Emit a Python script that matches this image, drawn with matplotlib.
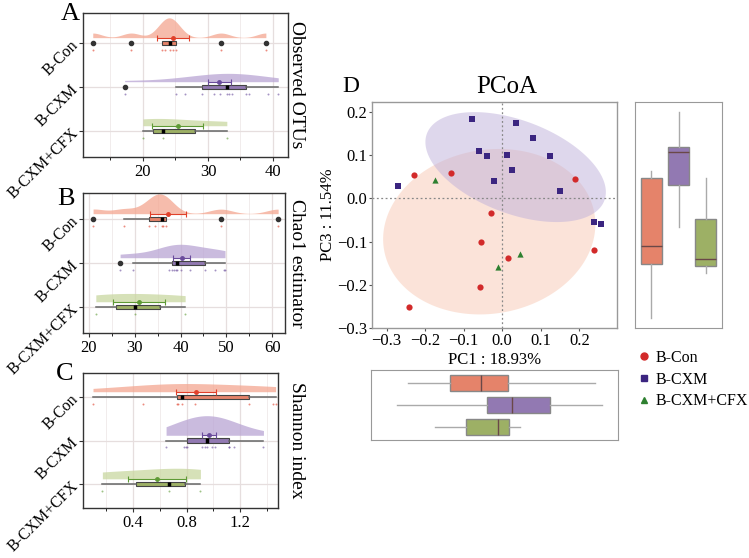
import numpy as np
import matplotlib.pyplot as plt
from matplotlib.lines import Line2D

plt.rcParams['font.family'] = ['Liberation Serif', 'DejaVu Serif']

groups = ['B-Con', 'B-CXM', 'B-CXM+CFX']

# alpha diversity, one value per sample
otus_con = [12.3, 18.2, 23.0, 23.4, 24.1, 24.6, 25.1, 32.0, 38.9]
otus_cxm = [17.2, 25.1, 26.4, 29.1, 31.0, 31.8, 32.9, 33.3, 33.7, 35.9, 36.3, 39.2, 40.8]
otus_cfx = [20.0, 23.1, 32.9]
chao_con = [20.9, 27.6, 33.0, 34.5, 35.9, 36.2, 36.8, 48.8, 61.3]
chao_cxm = [26.8, 29.6, 37.5, 38.1, 38.5, 39.0, 39.3, 40.0, 42.0, 45.3, 47.5, 49.5, 49.7]
chao_cfx = [21.5, 30.1, 41.0]
shan_con = [0.10, 0.474, 0.726, 0.74, 0.763, 0.86, 1.269, 1.45, 1.467]
shan_cxm = [0.647, 0.78, 0.793, 0.805, 0.916, 0.936, 0.956, 0.99, 1.01, 1.116, 1.12, 1.153, 1.376]
shan_cfx = [0.17, 0.672, 0.904]

# PCoA scores
pc1_con = [-0.228, -0.134, -0.028, -0.054, 0.015, -0.058, -0.243, 0.189, 0.238]
pc3_con = [0.054, 0.059, -0.035, -0.101, -0.139, -0.206, -0.252, 0.044, -0.120]
pc1_cxm = [-0.270, -0.078, 0.036, 0.080, -0.059, -0.040, 0.013, 0.026, -0.022, 0.123, 0.149, 0.238, 0.256]
pc3_cxm = [0.028, 0.183, 0.174, 0.140, 0.109, 0.098, 0.099, 0.065, 0.039, 0.098, 0.017, -0.054, -0.059]
pc1_cfx = [-0.174, 0.045, -0.012]
pc3_cfx = [0.043, -0.128, -0.158]

cloud_col = ['#F4A690', '#B9A5D4', '#C9D7A0']
box_col = ['#E5836A', '#9279B2', '#9DB065']
dot_col = ['#E0402A', '#6A4C9C', '#5E9A35']
pt_col = ['#D22A2A', '#3B2580', '#2E8030']
pt_mark = ['o', 's', '^']

W, H = 749, 558
fig = plt.figure(figsize=(W/100, H/100), dpi=100)

def box_px(l, t, r, b):
    return [l/W, 1-b/H, (r-l)/W, (b-t)/H]

def rain(rect, data, xlim, major, minor, ylim, title, letter, lpos):
    ax = fig.add_axes(rect)
    dens = []
    for vals in data:
        v = np.array(vals)
        iqr = np.percentile(v, 75) - np.percentile(v, 25)
        bw = 1.5*0.9*min(v.std(ddof=1), iqr/1.34)*len(v)**-0.2
        xs = np.linspace(v.min(), v.max(), 512)
        d = np.exp(-0.5*((xs[:, None]-v[None, :])/bw)**2).sum(1)/(len(v)*bw*np.sqrt(2*np.pi))
        dens.append((xs, d))
    dmax = max(d.max() for xs, d in dens)
    for i, vals in enumerate(data):
        v = np.array(vals)
        y0 = 3 - i
        xs, d = dens[i]
        ax.fill_between(xs, y0+0.12, y0+0.12+0.45*d/dmax, color=cloud_col[i], alpha=0.75, lw=0, zorder=2)
        ax.boxplot(v, positions=[y0], widths=0.1, orientation='horizontal', patch_artist=True,
                   showcaps=False, manage_ticks=False,
                   boxprops=dict(facecolor=box_col[i], edgecolor='#444444', lw=0.8),
                   whiskerprops=dict(color='#666666', lw=1.1),
                   medianprops=dict(color='black', lw=2.5),
                   flierprops=dict(marker='o', markerfacecolor='#333333', markeredgecolor='#333333', markersize=3),
                   zorder=3)
        se = v.std(ddof=1)/np.sqrt(len(v))
        ax.errorbar(v.mean(), y0+0.12, xerr=se, fmt='o', ms=2.5, color=dot_col[i],
                    elinewidth=0.8, capsize=2, capthick=0.8, zorder=4)
        ax.scatter(v, np.full(len(v), y0-0.16), s=2, color=dot_col[i], alpha=0.6, lw=0, zorder=3)
    ax.set_xlim(xlim)
    ax.set_ylim(ylim)
    ax.set_xticks(major)
    ax.set_xticks(minor, minor=True)
    ax.grid(True, which='major', color='#e6dede', lw=0.9)
    ax.grid(True, which='minor', axis='x', color='#efe9e9', lw=0.6)
    ax.set_axisbelow(True)
    ax.set_yticks([3, 2, 1])
    ax.set_yticklabels(groups, rotation=45, ha='right', va='center', rotation_mode='anchor', fontsize=11.5)
    ax.tick_params(axis='x', labelsize=12, length=3, color='#333333', pad=2)
    ax.tick_params(axis='y', length=3, color='#333333', pad=2)
    for s in ax.spines.values():
        s.set_color('#333333')
        s.set_linewidth(1.0)
    fig.text(297/W, rect[1]+rect[3]/2, title, rotation=270,
             ha='center', va='center', fontsize=14)
    fig.text(lpos[0]/W, 1-lpos[1]/H, letter, fontsize=19, ha='center', va='center')
    return ax

rain(box_px(83, 13, 288, 157), [otus_con, otus_cxm, otus_cfx], (10.8, 42.3),
     [20, 30, 40], [15, 25, 35], (0.41, 3.68), 'Observed OTUs', 'A', (70, 14))
rain(box_px(83, 193, 285, 333), [chao_con, chao_cxm, chao_cfx], (18.7, 62.8),
     [20, 30, 40, 50, 60], [25, 35, 45, 55], (0.41, 3.59), 'Chao1 estimator', 'B', (66, 199))
rain(box_px(83, 373, 278, 508), [shan_con, shan_cxm, shan_cfx], (0.025, 1.485),
     [0.4, 0.8, 1.2], [0.2, 0.6, 1.0, 1.4], (0.45, 3.55), 'Shannon index', 'C', (65, 374))

# PCoA scatter
axd = fig.add_axes(box_px(372, 102, 617, 328))
pc1 = [pc1_con, pc1_cxm, pc1_cfx]
pc3 = [pc3_con, pc3_cxm, pc3_cfx]
ell_col = ['#F8C9B4', '#BFB0DA']
xs_all, ys_all = [], []
t = np.linspace(0, 2*np.pi, 200)
scale = np.sqrt(-2*np.log(1-0.75))
for i in range(2):
    pts = np.vstack([pc1[i], pc3[i]])
    m = pts.mean(1)
    L = np.linalg.cholesky(np.cov(pts))
    e = m[:, None] + scale*L @ np.vstack([np.cos(t), np.sin(t)])
    axd.fill(e[0], e[1], color=ell_col[i], alpha=0.5, lw=0, zorder=1)
    xs_all += list(e[0]); ys_all += list(e[1])
for i in range(3):
    axd.scatter(pc1[i], pc3[i], marker=pt_mark[i], color=pt_col[i], s=20, lw=0, zorder=3)
    xs_all += pc1[i]; ys_all += pc3[i]
xlo, xhi = min(xs_all), max(xs_all)
ylo, yhi = min(ys_all), max(ys_all)
xl = (xlo-0.05*(xhi-xlo), xhi+0.05*(xhi-xlo))
axd.set_xlim(xl)
axd.set_ylim(ylo-0.05*(yhi-ylo), yhi+0.05*(yhi-ylo))
axd.axvline(0, color='#888888', ls=(0, (1.5, 2)), lw=0.9, zorder=2)
axd.axhline(0, color='#888888', ls=(0, (1.5, 2)), lw=0.9, zorder=2)
tk = [-0.3, -0.2, -0.1, 0.0, 0.1, 0.2]
axd.set_xticks(tk)
axd.set_yticks(tk)
axd.set_xticklabels(['%.1f' % v if v >= 0 else '\u2212%.1f' % -v for v in tk])
axd.set_yticklabels(['%.1f' % v if v >= 0 else '\u2212%.1f' % -v for v in tk])
axd.tick_params(labelsize=12, length=2.5, color='#555555', pad=1)
for s in axd.spines.values():
    s.set_color('#999999')
    s.set_linewidth(1.0)
axd.set_xlabel('PC1 : 18.93%', fontsize=12, labelpad=2)
axd.set_ylabel('PC3 : 11.54%', fontsize=12, labelpad=1)
fig.text(507/W, 1-87/H, 'PCoA', fontsize=18, ha='center', va='center')
fig.text(351/W, 1-87/H, 'D', fontsize=17, ha='center', va='center')

# PC1 boxplots below
axb = fig.add_axes(box_px(371, 370, 618, 440))
bp = axb.boxplot(pc1, positions=[3, 2, 1], widths=0.75, orientation='horizontal', patch_artist=True,
                 showcaps=False, manage_ticks=False,
                 whiskerprops=dict(color='#aaaaaa', lw=1.0),
                 medianprops=dict(color='#6a4848', lw=1.0))
for p, c in zip(bp['boxes'], box_col):
    p.set_facecolor(c)
    p.set_edgecolor('#888888')
axb.set_xlim(xl)
axb.set_ylim(0.4, 3.6)
axb.set_xticks([]); axb.set_yticks([])
for s in axb.spines.values():
    s.set_color('#999999')

# PC3 boxplots right
axr = fig.add_axes(box_px(635, 102, 722, 328))
bp = axr.boxplot(pc3, positions=[1, 2, 3], widths=0.75, patch_artist=True,
                 showcaps=False, manage_ticks=False,
                 whiskerprops=dict(color='#aaaaaa', lw=1.0),
                 medianprops=dict(color='#6a4848', lw=1.0))
for p, c in zip(bp['boxes'], box_col):
    p.set_facecolor(c)
    p.set_edgecolor('#888888')
ally = sum(pc3, [])
axr.set_ylim(min(ally)-0.05*(max(ally)-min(ally)), max(ally)+0.05*(max(ally)-min(ally)))
axr.set_xlim(0.4, 3.6)
axr.set_xticks([]); axr.set_yticks([])
for s in axr.spines.values():
    s.set_color('#999999')

handles = [Line2D([], [], marker=pt_mark[i], color=pt_col[i], ls='', markersize=5) for i in range(3)]
fig.legend(handles, groups, loc='upper left', bbox_to_anchor=(630/W, 1-342/H), frameon=False,
           fontsize=11.5, handletextpad=0.3, labelspacing=0.35, handlelength=0.8, borderpad=0)

fig.savefig('out.png', dpi=100)
